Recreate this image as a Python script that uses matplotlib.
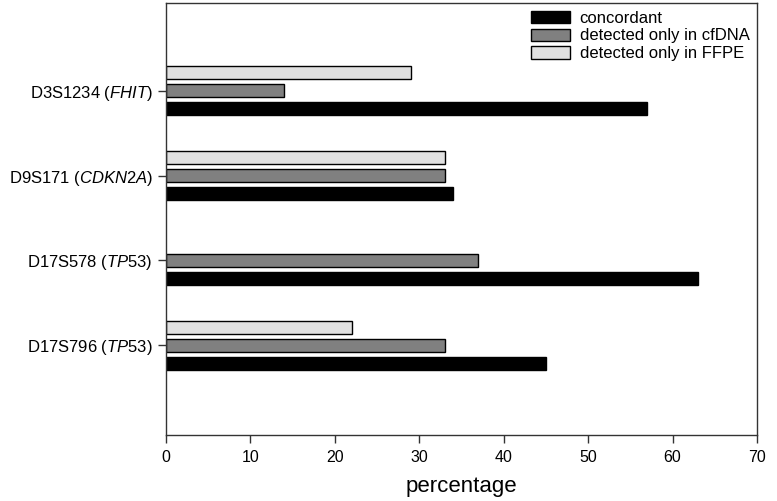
import matplotlib
matplotlib.use("Agg")
import matplotlib.pyplot as plt
import numpy as np

plt.rcParams['font.family'] = ['Liberation Sans', 'DejaVu Sans']
plt.rcParams['mathtext.fontset'] = 'custom'
plt.rcParams['mathtext.rm'] = 'Liberation Sans'
plt.rcParams['mathtext.it'] = 'Liberation Sans:italic'

markers = ['D3S1234', 'D9S171', 'D17S578', 'D17S796']
genes = ['FHIT', 'CDKN2A', 'TP53', 'TP53']
concordant = [57, 34, 63, 45]
cfdna_only = [14, 33, 37, 33]
ffpe_only = [29, 33, 0, 22]
series_names = ['concordant', 'detected only in cfDNA', 'detected only in FFPE']
xticks = [0, 10, 20, 30, 40, 50, 60, 70]

fig = plt.figure(figsize=(7.77, 5.01), dpi=100)
ax = fig.add_axes([0.2136, 0.1317, 0.7607, 0.862])

n = len(markers)
ypos = np.arange(n)[::-1].astype(float)
off = 0.212
h = 0.155
ax.barh(ypos - off, concordant, height=h, color='#000000', edgecolor='#000000', linewidth=1, label=series_names[0])
ax.barh(ypos, cfdna_only, height=h, color='#808080', edgecolor='#000000', linewidth=1, label=series_names[1])
ffpe_vals = np.array(ffpe_only, dtype=float)
mask = ffpe_vals > 0
ax.barh(ypos[mask] + off, ffpe_vals[mask], height=h, color='#e0e0e0', edgecolor='#000000', linewidth=1, label=series_names[2])

ax.set_xlim(0, 70)
ax.set_ylim(-1.06, n - 1 + 1.035)
ax.set_xticks(xticks)
ax.set_xticklabels([str(t) for t in xticks], fontsize=11.5)
ax.set_yticks(ypos)
ax.set_yticklabels([f'{m} ($\\it{{{g}}}$)' for m, g in zip(markers, genes)], fontsize=12)
ax.set_xlabel('percentage', fontsize=16, labelpad=8)
ax.tick_params(direction='out', length=6, width=1, color='#333333')
ax.tick_params(axis='x', pad=5)
for s in ax.spines.values():
    s.set_linewidth(1)
    s.set_color('#333333')

leg = ax.legend(loc='upper right', frameon=False, fontsize=12, handlelength=2.35, handleheight=0.75,
                handletextpad=0.55, labelspacing=0.17, borderpad=0.4, borderaxespad=0.05)

fig.savefig('out.png', dpi=100)
